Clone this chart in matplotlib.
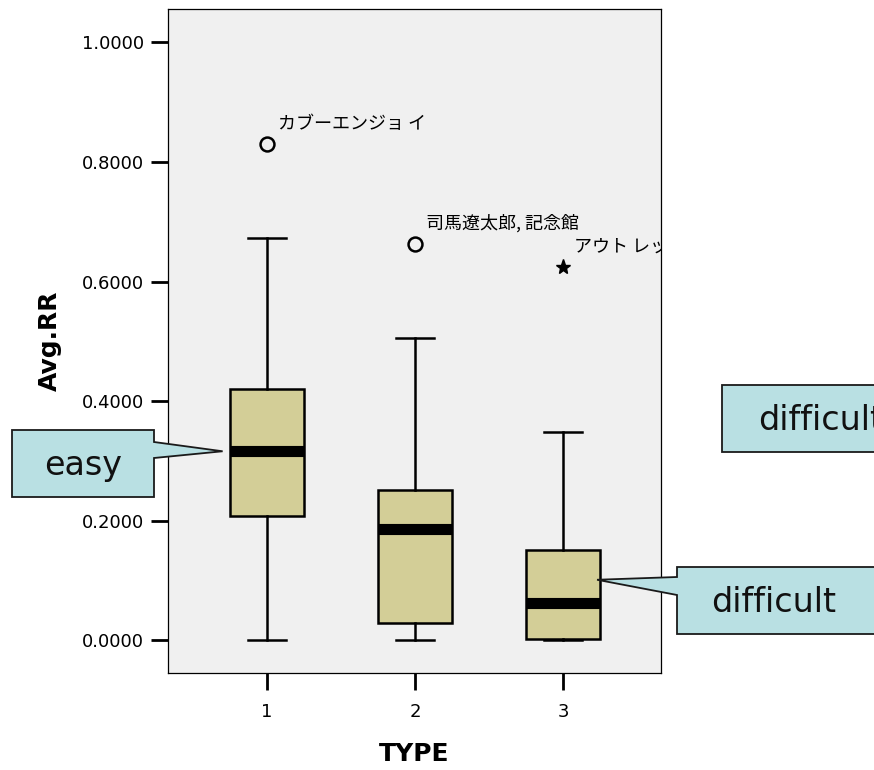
#!/usr/bin/env python3
# -*- coding: utf-8 -*-
"""Avg.RR by TYPE, box plot with labelled outliers and callouts"""

import matplotlib
matplotlib.use("Agg")
import matplotlib.pyplot as plt
from matplotlib.patches import Polygon

# per-TYPE summary (whisker low, Q1, median, Q3, whisker high)
types = [1, 2, 3]
whislo = [0.000, 0.000, 0.000]
q1 = [0.2075, 0.0285, 0.002]
med = [0.316, 0.186, 0.062]
q3 = [0.420, 0.251, 0.151]
whishi = [0.673, 0.505, 0.348]

# outliers (circle) and extremes (star) with case names
outlier_type = [1, 2]
outlier_val = [0.830, 0.663]
outlier_name = ["カブーエンジョ イ", "司馬遼太郎, 記念館"]
extreme_type = [3]
extreme_val = [0.624]
extreme_name = ["アウト レッ"]

yticks = [0.0, 0.2, 0.4, 0.6, 0.8, 1.0]

W, H = 874, 770
BOX_FILL = "#d3ce97"
CALLOUT_FILL = "#b9e0e3"

jp = ["Noto Sans CJK JP", "DejaVu Sans"]

fig = plt.figure(figsize=(W / 100, H / 100), dpi=100)
ax = fig.add_axes([168 / W, 1 - 673 / H, (661 - 168) / W, (673 - 9) / H])
ax.set_facecolor("#f0f0f0")

stats = []
for i, t in enumerate(types):
    fl = [v for ot, v in zip(outlier_type, outlier_val) if ot == t]
    stats.append(dict(whislo=whislo[i], q1=q1[i], med=med[i], q3=q3[i],
                      whishi=whishi[i], fliers=fl))

ax.bxp(stats, positions=types, widths=0.5, capwidths=0.26, patch_artist=True,
       boxprops=dict(facecolor=BOX_FILL, edgecolor="black", linewidth=1.8),
       medianprops=dict(color="black", linewidth=8, solid_capstyle="butt"),
       whiskerprops=dict(color="black", linewidth=1.8),
       capprops=dict(color="black", linewidth=1.8),
       flierprops=dict(marker="o", markersize=10, markerfacecolor="none",
                       markeredgecolor="black", markeredgewidth=1.8))
ax.plot(extreme_type, extreme_val, linestyle="none", marker="*",
        markersize=11, color="black")

for t, v, name in zip(outlier_type + extreme_type, outlier_val + extreme_val,
                      outlier_name + extreme_name):
    ax.annotate(name, (t, v), xytext=(8, 8), textcoords="offset points",
                fontsize=13, family=jp, va="bottom", ha="left",
                annotation_clip=False, clip_on=True)

ax.set_xlim(0.331, 3.662)
ax.set_ylim(-0.055, 1.056)
ax.set_xticks(types)
ax.set_xticklabels([str(t) for t in types], fontsize=13)
ax.set_yticks(yticks)
ax.set_yticklabels([f"{v:.4f}" for v in yticks], fontsize=13)
ax.tick_params(direction="out", length=12.5, width=2, pad=5)
ax.tick_params(axis="x", pad=9)
for s in ax.spines.values():
    s.set_linewidth(0.9)

ax.set_ylabel("Avg.RR", fontsize=18, fontweight="bold", labelpad=14)
ax.set_xlabel("TYPE", fontsize=18, fontweight="bold", labelpad=15)


def px(x, y):
    return (x / W, 1 - y / H)


def callout(text, x0, y0, x1, y1, tip=None, notch=None, side="right",
            tx=None, ha="center", size=24):
    """Rectangular callout in figure pixels, optional wedge to a data point."""
    if tip is None:
        pts = [(x0, y0), (x1, y0), (x1, y1), (x0, y1)]
    else:
        # tip given in data coords -> figure pixels (from top)
        dx, dy = ax.transData.transform(tip)
        tip_px = (dx, H - dy)
        a, b = notch
        if side == "right":
            pts = [(x0, y0), (x1, y0), (x1, a), tip_px, (x1, b), (x1, y1), (x0, y1)]
        else:
            pts = [(x0, y0), (x1, y0), (x1, y1), (x0, y1), (x0, b), tip_px, (x0, a)]
    poly = Polygon([px(*p) for p in pts], closed=True, transform=fig.transFigure,
                   facecolor=CALLOUT_FILL, edgecolor="#1a1a1a", linewidth=1.3)
    fig.add_artist(poly)
    cx = tx if tx is not None else (x0 + x1) / 2
    fig.text(*px(cx, (y0 + y1) / 2 + 2), text, fontsize=size, ha=ha, va="center",
             color="#111111")


callout("easy", 12, 430, 154, 497, tip=(0.70, med[0]), notch=(442, 458),
        side="right", tx=83)
callout("difficult", 677, 567, 880, 634, tip=(3.23, 0.101), notch=(577, 595),
        side="left", tx=774)
callout("difficult", 722, 385, 900, 452, tx=758, ha="left")

fig.savefig("out.png", dpi=100, facecolor="white")
